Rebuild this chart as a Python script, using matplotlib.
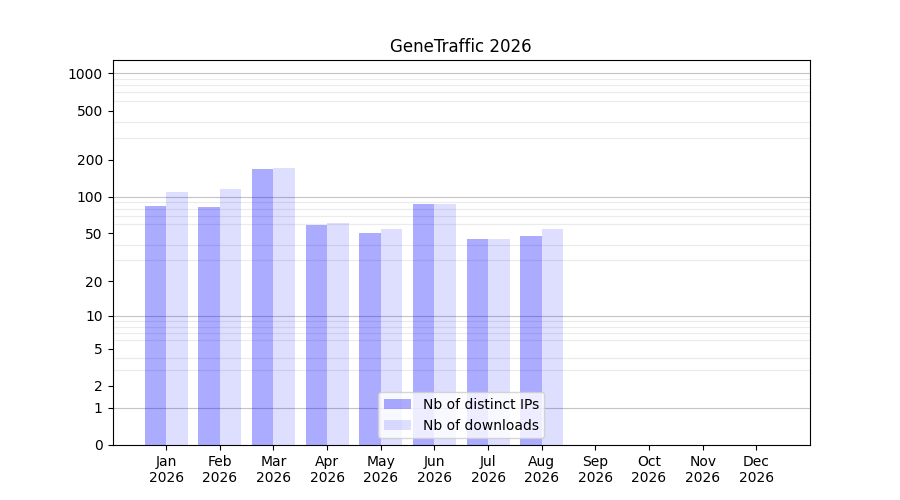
import numpy as np
import matplotlib
matplotlib.use("Agg")
import matplotlib.pyplot as plt

months = ["Jan", "Feb", "Mar", "Apr", "May", "Jun", "Jul", "Aug", "Sep", "Oct", "Nov", "Dec"]
year = "2026"
distinct_ips = [84, 82, 168, 59, 50, 87, 45, 48, 0, 0, 0, 0]
downloads = [109, 115, 171, 61, 54, 87, 45, 54, 0, 0, 0, 0]
ytick_values = [0, 1, 2, 5, 10, 20, 50, 100, 200, 500, 1000]

def fwd(v):
    return np.log10(1 + np.clip(v, 0, None))

def inv(v):
    return 10 ** np.asarray(v) - 1

fig, ax = plt.subplots(figsize=(9, 5), dpi=100)
x = np.arange(len(months))
w = 0.4
ax.bar(x - w / 2, distinct_ips, width=w, color="blue", alpha=0.33, label="Nb of distinct IPs", zorder=2)
ax.bar(x + w / 2, downloads, width=w, color="blue", alpha=0.13, label="Nb of downloads", zorder=2)

ax.set_yscale("function", functions=(fwd, inv))
ax.set_ylim(0, 1280)
ax.set_xlim(-1, 12)
ax.set_yticks(ytick_values)
ax.set_yticklabels([str(v) for v in ytick_values])

minor = []
for dec in [1, 10, 100]:
    for m in range(2, 10):
        minor.append(m * dec)
ax.set_yticks(minor, minor=True)
ax.tick_params(axis="y", which="minor", length=0)
ax.grid(axis="y", which="minor", color="#ebebeb", linewidth=0.8, zorder=0)
for dec in [1, 10, 100, 1000]:
    ax.axhline(dec, color="#c4c4c4", linewidth=0.8, zorder=1)

ax.set_xticks(x)
ax.set_xticklabels([f"{m}\n{year}" for m in months])
ax.set_title("GeneTraffic 2026")
ax.legend(loc="lower center")
fig.savefig("out.png")
